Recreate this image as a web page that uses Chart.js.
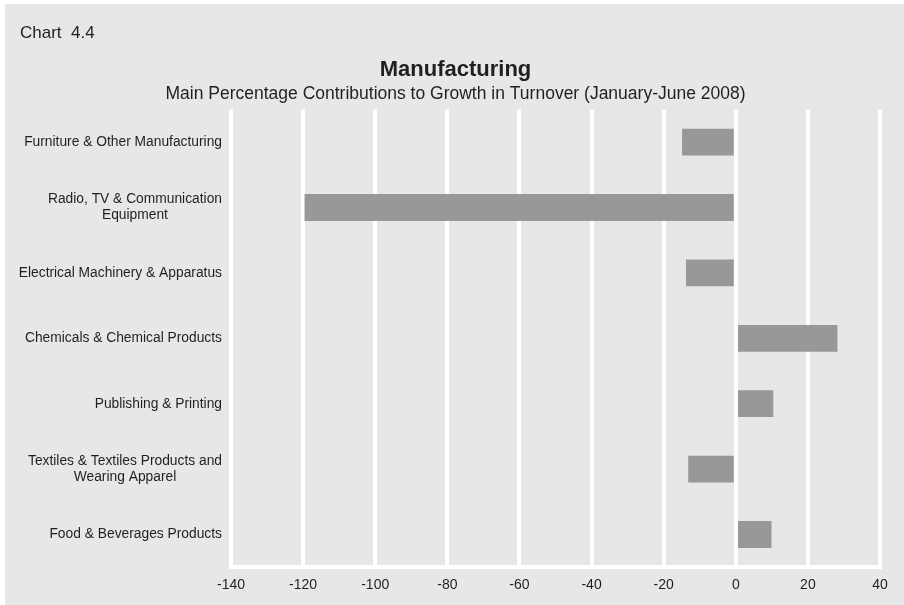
<!DOCTYPE html>
<html>
<head>
<meta charset="utf-8">
<script src="https://cdn.jsdelivr.net/npm/chart.js@4/dist/chart.umd.min.js"></script>
<style>
  html, body { margin: 0; padding: 0; background: #ffffff; overflow: hidden; }
  #wrap { width: 904px; height: 605px; }
</style>
</head>
<body>
<div id="wrap"><canvas id="mfgChart" width="904" height="605"></canvas></div>
<script>
// industries, top to bottom
const categories = [
    'Furniture & Other Manufacturing',
    ['Radio, TV & Communication', 'Equipment'],
    'Electrical Machinery & Apparatus',
    'Chemicals & Chemical Products',
    'Publishing & Printing',
    ['Textiles & Textiles Products and', 'Wearing Apparel'],
    'Food & Beverages Products'
];
// percentage contribution to turnover growth
const contributions = [-14.9, -119.6, -13.8, 28.2, 10.4, -13.2, 9.9];
const xTicks = [-140, -120, -100, -80, -60, -40, -20, 0, 20, 40];

const FONT = '"Liberation Sans", Arial, Helvetica, sans-serif';
const TEXT = '#231f20';
const PANEL = '#e6e7e8';

// grey panel behind everything, plus the chart number in the corner
const panelPlugin = {
    id: 'panel',
    beforeDraw(chart) {
        const ctx = chart.ctx;
        ctx.save();
        ctx.fillStyle = '#ffffff';
        ctx.fillRect(0, 0, chart.width, chart.height);
        ctx.fillStyle = PANEL;
        ctx.fillRect(5, 4, chart.width - 5, chart.height - 4);
        ctx.fillStyle = TEXT;
        ctx.font = '17px ' + FONT;
        ctx.textBaseline = 'alphabetic';
        ctx.textAlign = 'left';
        ctx.fillText('Chart  4.4', 20, 38);
        ctx.restore();
    }
};

// zero line over the bar ends + centred multi-line category labels
const labelPlugin = {
    id: 'catLabels',
    afterDatasetsDraw(chart) {
        const ctx = chart.ctx;
        const x = chart.scales.x;
        const y = chart.scales.y;
        const area = chart.chartArea;
        ctx.save();
        ctx.strokeStyle = '#ffffff';
        ctx.lineWidth = 4;
        const x0 = Math.round(x.getPixelForValue(0));
        ctx.beginPath();
        ctx.moveTo(x0, area.top);
        ctx.lineTo(x0, area.bottom);
        ctx.stroke();

        ctx.fillStyle = TEXT;
        ctx.font = '13.8px ' + FONT;
        ctx.textBaseline = 'middle';
        ctx.textAlign = 'center';
        const right = area.left - 9;
        const lh = 16;
        chart.data.labels.forEach((lab, i) => {
            const lines = Array.isArray(lab) ? lab : [lab];
            const w = Math.max(...lines.map(l => ctx.measureText(l).width));
            const cx = right - w / 2;
            const cy = y.getPixelForValue(i);
            lines.forEach((l, j) => {
                ctx.fillText(l, cx, cy + (j - (lines.length - 1) / 2) * lh);
            });
        });
        ctx.restore();
    }
};

new Chart(document.getElementById('mfgChart').getContext('2d'), {
    type: 'bar',
    data: {
        labels: categories,
        datasets: [{
            data: contributions,
            backgroundColor: '#989898',
            borderWidth: 0,
            categoryPercentage: 1,
            barPercentage: 0.41
        }]
    },
    options: {
        indexAxis: 'y',
        responsive: false,
        animation: false,
        devicePixelRatio: 1,
        layout: {
            padding: { left: 31, right: 24, top: 0, bottom: 1 }
        },
        plugins: {
            legend: { display: false },
            tooltip: { enabled: false },
            title: {
                display: true,
                text: 'Manufacturing',
                color: TEXT,
                font: { family: FONT, size: 22, weight: 'bold', lineHeight: 1.2 },
                padding: { top: 57, bottom: 0 }
            },
            subtitle: {
                display: true,
                text: 'Main Percentage Contributions to Growth in Turnover (January-June 2008)',
                color: TEXT,
                font: { family: FONT, size: 17.5, lineHeight: 1.2 },
                padding: { top: 0, bottom: 5 }
            }
        },
        scales: {
            x: {
                min: xTicks[0],
                max: xTicks[xTicks.length - 1],
                afterBuildTicks(scale) {
                    scale.ticks = xTicks.map(v => ({ value: v }));
                },
                grid: {
                    color: '#ffffff',
                    lineWidth: 4,
                    drawTicks: false
                },
                border: { color: '#ffffff', width: 4 },
                ticks: {
                    color: TEXT,
                    padding: 10,
                    font: { family: FONT, size: 14 }
                }
            },
            y: {
                grid: { display: false },
                border: { display: false },
                ticks: { display: false },
                afterFit(scale) {
                    scale.width = 200;
                }
            }
        }
    },
    plugins: [panelPlugin, labelPlugin]
});
</script>
</body>
</html>
